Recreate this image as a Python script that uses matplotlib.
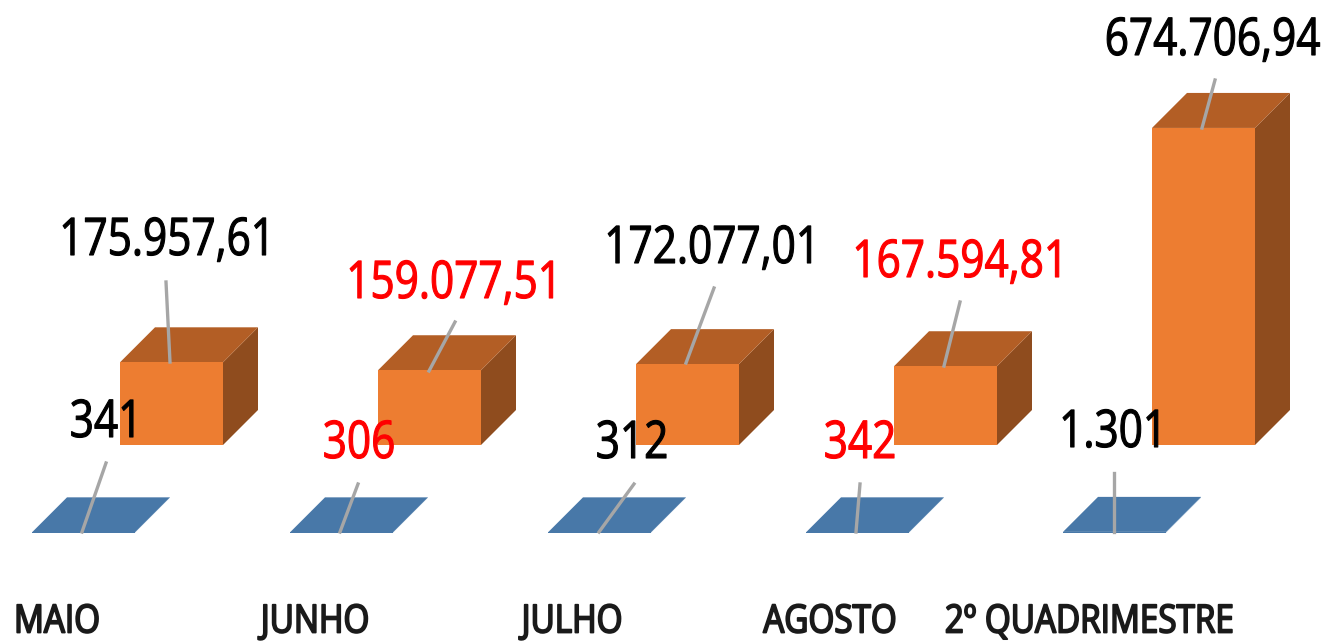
import matplotlib
matplotlib.use('Agg')
import matplotlib.pyplot as plt
from matplotlib.patches import Polygon
from matplotlib.patheffects import AbstractPathEffect
from matplotlib.transforms import Affine2D

categories = ['MAIO', 'JUNHO', 'JULHO', 'AGOSTO', '2º QUADRIMESTRE']
valor = [175957.61, 159077.51, 172077.01, 167594.81, 674706.94]
valor_labels = ['175.957,61', '159.077,51', '172.077,01', '167.594,81', '674.706,94']
qtd = [341, 306, 312, 342, 1301]
qtd_labels = ['341', '306', '312', '342', '1.301']
label_colors = ['black', 'red', 'black', 'red', 'black']

plt.rcParams['font.family'] = ['Open Sans', 'DejaVu Sans']

W, H = 1325, 642
BASE = 445
UNITS = 2128.0  # value units per pixel on the y axis

fig = plt.figure(figsize=(W / 100, H / 100), dpi=100)
ax = fig.add_axes([0, 0, 1, 1])
ax.set_xlim(0, W)
# y axis in value units, zero at the orange base line
ax.set_ylim(-(H - BASE) * UNITS, BASE * UNITS)
ax.axis('off')


class Squeeze(AbstractPathEffect):
    # no condensed font here, so narrow the glyphs around the anchor
    def __init__(self, cx, sx, lw):
        super().__init__()
        self.cx, self.sx, self.lw = cx, sx, lw

    def draw_path(self, renderer, gc, tpath, affine, rgbFace=None):
        gc0 = renderer.new_gc()
        gc0.copy_properties(gc)
        gc0.set_linewidth(self.lw)
        gc0.set_foreground(rgbFace)
        t = Affine2D().translate(-self.cx, 0).scale(self.sx, 1).translate(self.cx, 0)
        renderer.draw_path(gc0, tpath, affine + t, rgbFace)
        gc0.restore()


def px(y):
    # pixel row from the top, to value units
    return (BASE - y) * UNITS


def label(x, y, s, color, size, sx=0.815, lw=0.8, ha='center', zorder=7):
    cx = ax.transData.transform((x, 0))[0]
    ax.text(x, px(y), s, color=color, fontsize=size, ha=ha, va='baseline', zorder=zorder,
            path_effects=[Squeeze(cx, sx, lw)])


def box(x, base, value, width, front, top, side):
    dx, dy = 35, 35 * UNITS
    h = base + value
    ax.add_patch(Polygon([(x + width, base), (x + width + dx, base + dy),
                          (x + width + dx, h + dy), (x + width, h)], fc=side, ec='none'))
    ax.add_patch(Polygon([(x, h), (x + width, h), (x + width + dx, h + dy), (x + dx, h + dy)],
                         fc=top, ec='none'))
    ax.add_patch(Polygon([(x, base), (x + width, base), (x + width, h), (x, h)], fc=front, ec='none'))


blue_x = [32, 290, 548, 806, 1063]
orange_x = [120, 378, 636, 894, 1152]
# leader lines: start at the mark, end near the label
blue_lead = [(82, 532, 106, 463), (340, 532, 358, 484), (599, 532, 634, 484),
             (856, 532, 860, 484), (1114, 532, 1114, 473)]
orange_lead = [(170, 362, 166, 282), (429, 371, 455, 322), (686, 363, 714, 288),
               (944, 366, 960, 302), (1202, 128, 1215, 80)]
# label anchors, x then baseline row
blue_text = [(106, 437), (359, 458), (632, 458), (860, 458), (1113, 447)]
orange_text = [(167, 255), (454, 298), (712, 263), (960, 277), (1320, 55)]
cat_text = [(57, 632.5), (315, 632.5), (572, 632.5), (830, 632.5), (1089, 632.5)]

for i in range(len(categories)):
    box(blue_x[i], px(532.5), qtd[i], 103, '#4878a8', '#4878a8', '#4878a8')
    box(orange_x[i], 0, valor[i], 103, '#ed7d31', '#b35e25', '#8f4c1e')
    ax.plot([blue_lead[i][0], blue_lead[i][2]], [px(blue_lead[i][1]), px(blue_lead[i][3])],
            color='#a6a6a6', lw=2.4, zorder=5)
    ax.plot([orange_lead[i][0], orange_lead[i][2]], [px(orange_lead[i][1]), px(orange_lead[i][3])],
            color='#a6a6a6', lw=2.4, zorder=5)
    label(blue_text[i][0], blue_text[i][1], qtd_labels[i], label_colors[i], 37.4)
    # last label sits against the right edge
    label(orange_text[i][0], orange_text[i][1], valor_labels[i], label_colors[i], 37.4,
          ha='right' if i == len(categories) - 1 else 'center')
    label(cat_text[i][0], cat_text[i][1], categories[i], '#1a1a1a', 28, sx=0.855, lw=1.3)

fig.savefig('out.png', dpi=100)
